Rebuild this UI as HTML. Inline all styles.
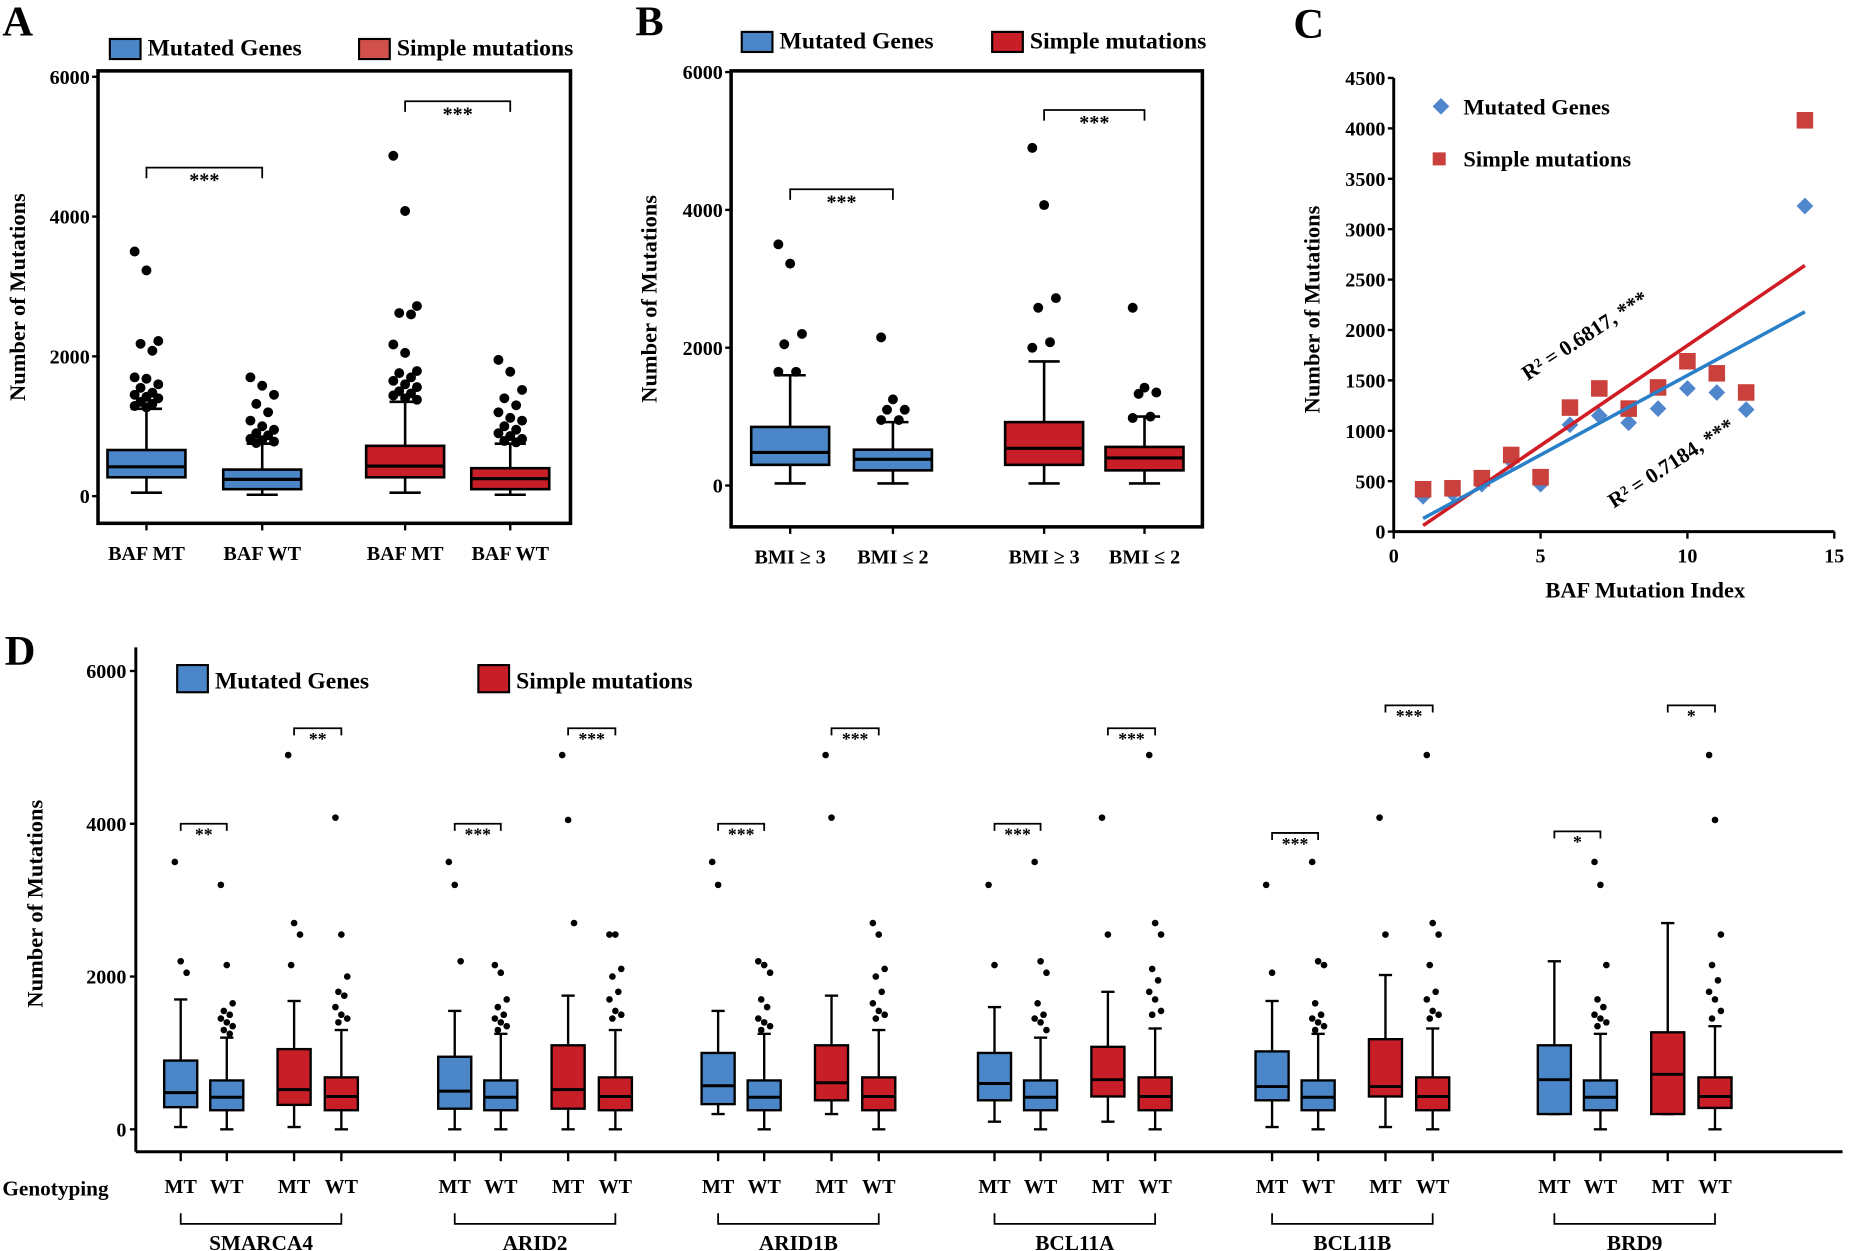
<!DOCTYPE html>
<html><head><meta charset="utf-8">
<style>
html,body{margin:0;padding:0;background:#fff;}
svg{display:block;font-family:"Liberation Serif",serif;font-weight:bold;}
</style></head>
<body>
<svg id="fig" width="1852" height="1251" viewBox="0 0 1568 1059" preserveAspectRatio="none" xmlns="http://www.w3.org/2000/svg">
<rect width="1568" height="1059" fill="#fff"/>
<!-- panel letters -->
<text x="2" y="30" font-size="36">A</text>
<text x="538" y="30" font-size="36">B</text>
<text x="1095" y="32" font-size="36">C</text>
<text x="4" y="563" font-size="36">D</text>
<g id="gA"></g>
<g id="gB"></g>
<g id="gC"></g>
<g id="gD"></g>
</svg>
<script>
// ---------- DATA ----------
// Panel A (stats: low whisker, q1, median, q3, high whisker)
const aCategories = ["BAF MT","BAF WT","BAF MT","BAF WT"];
const aStats = [[50,270,420,660,1250],[20,100,240,380,750],[50,270,430,720,1350],[20,100,250,400,750]];
const aOutliers = [
  [3500,3230,2220,2180,2080,1700,1680,1600,1550,1480,1450,1420,1400,1350,1320,1290,1270],
  [1700,1580,1450,1320,1200,1080,1000,950,900,870,820,800,780,760],
  [4870,4080,2720,2620,2600,2170,2050,1790,1760,1700,1650,1600,1560,1500,1470,1440,1400,1380],
  [1950,1780,1520,1400,1300,1200,1120,1080,1000,950,900,860,820,790,770]
];
const aTicks = [0,2000,4000,6000];
const aSig = ["***","***"];
// Panel B
const bCategories = ["BMI \u2265 3","BMI \u2264 2","BMI \u2265 3","BMI \u2264 2"];
const bStats = [[30,300,480,850,1600],[30,220,380,520,920],[30,300,540,920,1800],[30,220,400,560,1000]];
const bOutliers = [[3500,3220,2200,2050,1650,1650],[2150,1250,1100,1100,950,950],[4900,4070,2720,2580,2080,2000],[2580,1420,1350,1330,1000,980]];
const bTicks = [0,2000,4000,6000];
// Panel C
const cX = [1,2,3,4,5,6,7,8,9,10,11,12,14];
const cGenes = [350,380,470,700,470,1060,1150,1080,1220,1420,1380,1210,3230];
const cSimple = [420,430,530,760,540,1230,1420,1220,1430,1690,1570,1380,4080];
const cFitGenes = [130,2180];   // fitted values at x=1 and x=14
const cFitSimple = [60,2640];
const cYTicks = [0,500,1000,1500,2000,2500,3000,3500,4000,4500];
const cXTicks = [0,5,10,15];
// Panel D
const dGenes = ["SMARCA4","ARID2","ARID1B","BCL11A","BCL11B","BRD9"];
const dBlueMT = [[30,290,480,900,1700],[0,270,500,950,1550],[200,330,570,1000,1550],[100,380,600,1000,1600],[30,380,560,1020,1680],[200,200,650,1100,2200]];
const dBlueWT = [[0,250,420,640,1200],[0,250,420,640,1250],[0,250,420,640,1250],[0,250,420,640,1200],[0,250,420,640,1250],[0,250,420,640,1250]];
const dRedMT = [[30,320,520,1050,1680],[0,270,520,1100,1750],[200,380,610,1100,1750],[100,430,650,1080,1800],[30,430,560,1180,2020],[200,200,720,1270,2700]];
const dRedWT = [[0,250,430,680,1300],[0,250,430,680,1300],[0,250,430,680,1300],[0,250,430,680,1320],[0,250,430,680,1320],[0,280,430,680,1350]];
const dOutBlueMT = [[3500,2200,2050],[3500,3200,2200],[3500,3200],[3200,2150],[3200,2050],[]];
const dOutBlueWT = [[3200,2150,1650,1550,1500,1450,1400,1350,1300,1250],[2150,2050,1700,1600,1500,1450,1400,1350,1300],[2200,2150,2050,1700,1600,1450,1400,1350,1300],[3500,2200,2050,1650,1500,1450,1400,1300],[3500,2200,2150,1650,1500,1450,1400,1350,1300],[3500,3200,2150,1700,1600,1500,1450,1400,1350]];
const dOutRedMT = [[4900,2700,2550,2150],[4900,4050,2700],[4900,4080],[4080,2550],[4080,2550],[]];
const dOutRedWT = [[4080,2550,2000,1800,1750,1600,1500,1450,1400],[2550,2550,2100,2000,1800,1700,1550,1500,1450],[2700,2550,2100,2000,1800,1650,1550,1500,1450],[4900,2700,2550,2100,1950,1800,1700,1550,1500],[4900,2700,2550,2150,1800,1700,1550,1500,1450],[4900,4050,2550,2150,1950,1800,1700,1550,1450]];
const dSigBlue = ["**","***","***","***","***","*"];
const dSigBlueLevel = [4000,4000,4000,4000,3880,3900];
const dSigRed = ["**","***","***","***","***","*"];
const dSigRedLevel = [5250,5250,5250,5250,5550,5550];
const dTicks = [0,2000,4000,6000];

// ---------- HELPERS ----------
const NS="http://www.w3.org/2000/svg";
function mk(parent,tag,attrs,text){const e=document.createElementNS(NS,tag);for(const k in attrs)e.setAttribute(k,attrs[k]);if(text!==undefined)e.textContent=text;parent.appendChild(e);return e;}
const BLUE="#4a86c8", RED="#c81e28", REDL="#d2504c";

function drawBox(g,cx,w,s,fill,ys,name,lw){
  const bx=mk(g,"g",{});
  
  
  const cap=w*0.4;
  mk(bx,"line",{x1:cx,x2:cx,y1:ys(s[0]),y2:ys(s[1]),stroke:"#000","stroke-width":lw});
  mk(bx,"line",{x1:cx,x2:cx,y1:ys(s[3]),y2:ys(s[4]),stroke:"#000","stroke-width":lw});
  mk(bx,"line",{x1:cx-cap/2,x2:cx+cap/2,y1:ys(s[0]),y2:ys(s[0]),stroke:"#000","stroke-width":lw});
  mk(bx,"line",{x1:cx-cap/2,x2:cx+cap/2,y1:ys(s[4]),y2:ys(s[4]),stroke:"#000","stroke-width":lw});
  mk(bx,"rect",{x:cx-w/2,y:ys(s[3]),width:w,height:ys(s[1])-ys(s[3]),fill:fill,stroke:"#000","stroke-width":lw});
  mk(bx,"line",{x1:cx-w/2,x2:cx+w/2,y1:ys(s[2]),y2:ys(s[2]),stroke:"#000","stroke-width":lw+0.5});
}
function drawOut(g,cx,vals,ys,r,spread,name){
  vals.forEach((v,i)=>{
    const off=((i*7)%5-2)*spread;
    const c=mk(g,"circle",{cx:cx+off,cy:ys(v),r:r,fill:"#000"});
    
    
  });
}
function bracket(g,x1,x2,y,label,fs,name,h){
  const b=mk(g,"g",{});
  
  
  mk(b,"path",{d:`M${x1},${y+h}V${y}H${x2}V${y+h}`,fill:"none",stroke:"#000","stroke-width":1.5});
  mk(b,"text",{x:(x1+x2)/2,y:y+fs*0.95,"font-size":fs,"text-anchor":"middle"},label);
}
function legendBox(g,x,y,fill,label,name,w,h,fs){
  const l=mk(g,"g",{});
  
  
  mk(l,"rect",{x:x,y:y,width:w,height:h,fill:fill,stroke:"#000","stroke-width":1.8});
  mk(l,"text",{x:x+w+6,y:y+h-3,"font-size":fs},label);
}

// ---------- PANELS A & B ----------
function boxPanel(g,frame,y0,y6,xs,cats,stats,outs,ticks,legY,legX1,legX2,red,sigY,sigLbl,ylabX,boxW){
  const ys=v=>y0-(y0-y6)*v/6000;
  mk(g,"rect",{x:frame[0],y:frame[1],width:frame[2]-frame[0],height:frame[3]-frame[1],fill:"none",stroke:"#000","stroke-width":3});
  ticks.forEach(t=>{
    mk(g,"line",{x1:frame[0]-5,x2:frame[0],y1:ys(t),y2:ys(t),stroke:"#000","stroke-width":2});
    const tx=mk(g,"text",{x:frame[0]-7,y:ys(t)+6,"font-size":17,"text-anchor":"end"},t);
    
  });
  xs.forEach((x,i)=>{
    mk(g,"line",{x1:x,x2:x,y1:frame[3],y2:frame[3]+6,stroke:"#000","stroke-width":2});
    const tx=mk(g,"text",{x:x,y:frame[3]+31,"font-size":17,"text-anchor":"middle"},cats[i]);
    
  });
  stats.forEach((s,i)=>{
    drawBox(g,xs[i],boxW,s,i<2?BLUE:RED,ys,"box-"+(i<2?"genes":"simple")+"-"+i,2.2);
    drawOut(g,xs[i],outs[i],ys,4.2,5,"outlier-point");
  });
  bracket(g,xs[0],xs[1],ys(sigY[0]),sigLbl[0],17,"significance-bracket-genes",9);
  bracket(g,xs[2],xs[3],ys(sigY[1]),sigLbl[1],17,"significance-bracket-simple",9);
  legendBox(g,legX1,legY,BLUE,"Mutated  Genes","legend-mutated-genes",26,17,20);
  legendBox(g,legX2,legY,red,"Simple mutations","legend-simple-mutations",26,17,20);
  const yl=mk(g,"text",{transform:`translate(${ylabX},${(frame[1]+frame[3])/2}) rotate(-90)`,"font-size":19,"text-anchor":"middle"},"Number  of Mutations");
  
}
boxPanel(document.getElementById("gA"),[83,60,483,443],420,65,[124,222,343,432],aCategories,aStats,aOutliers,aTicks,33,93,304,REDL,[4700,5650],aSig,21,66);
boxPanel(document.getElementById("gB"),[619,60,1018,446],411,61,[669,756,884,969],bCategories,bStats,bOutliers,bTicks,27,628,840,RED,[4300,5450],["***","***"],556,66);

// ---------- PANEL C ----------
(function(){
  const g=document.getElementById("gC");
  const x0=1180,x15=1553,y0=450,y45=66;
  const xs=v=>x0+(x15-x0)*v/15, ys=v=>y0-(y0-y45)*v/4500;
  mk(g,"line",{x1:x0,x2:x0,y1:y45,y2:y0,stroke:"#000","stroke-width":2.5});
  mk(g,"line",{x1:x0,x2:x15,y1:y0,y2:y0,stroke:"#000","stroke-width":2.5});
  cYTicks.forEach(t=>{
    mk(g,"line",{x1:x0-5,x2:x0,y1:ys(t),y2:ys(t),stroke:"#000","stroke-width":2});
    const tx=mk(g,"text",{x:x0-7,y:ys(t)+6,"font-size":17,"text-anchor":"end"},t);
    
  });
  cXTicks.forEach(t=>{
    mk(g,"line",{x1:xs(t),x2:xs(t),y1:y0,y2:y0+6,stroke:"#000","stroke-width":2});
    const tx=mk(g,"text",{x:xs(t),y:y0+26,"font-size":17,"text-anchor":"middle"},t);
    
  });
  cX.forEach((x,i)=>{
    const d=mk(g,"rect",{x:xs(x)-5,y:ys(cGenes[i])-5,width:10,height:10,fill:"#4f86cc",transform:`rotate(45 ${xs(x)} ${ys(cGenes[i])})`});
    
    
  });
  cX.forEach((x,i)=>{
    const s=mk(g,"rect",{x:xs(x)-7,y:ys(cSimple[i])-7,width:14,height:14,fill:"#c9403c"});
    
    
  });
  const xa=cX[0], xb=cX[cX.length-1];
  const lr=mk(g,"line",{x1:xs(xa),y1:ys(cFitSimple[0]),x2:xs(xb),y2:ys(cFitSimple[1]),stroke:"#d01c24","stroke-width":3});
  
  const lb=mk(g,"line",{x1:xs(xa),y1:ys(cFitGenes[0]),x2:xs(xb),y2:ys(cFitGenes[1]),stroke:"#2a80c8","stroke-width":3});
  
  const t1=mk(g,"text",{transform:"translate(1345,289) rotate(-33)","font-size":18,"text-anchor":"middle"},"R\u00b2 = 0.6817, ***");
  
  const t2=mk(g,"text",{transform:"translate(1418,397) rotate(-33)","font-size":18,"text-anchor":"middle"},"R\u00b2 = 0.7184, ***");
  
  const l1=mk(g,"g",{});  
  mk(l1,"rect",{x:1215,y:85,width:10,height:10,fill:"#4f86cc",transform:"rotate(45 1220 90)"});
  mk(l1,"text",{x:1239,y:97,"font-size":19},"Mutated  Genes");
  const l2=mk(g,"g",{});  
  mk(l2,"rect",{x:1213,y:129,width:11,height:11,fill:"#c9403c"});
  mk(l2,"text",{x:1239,y:141,"font-size":19},"Simple mutations");
  const xt=mk(g,"text",{x:1393,y:506,"font-size":19,"text-anchor":"middle"},"BAF  Mutation  Index");
  
  const yt=mk(g,"text",{transform:"translate(1117,262) rotate(-90)","font-size":19,"text-anchor":"middle"},"Number  of Mutations");
  
})();

// ---------- PANEL D ----------
(function(){
  const g=document.getElementById("gD");
  const y0=956,y6=568, ax=115, axY=975;
  const ys=v=>y0-(y0-y6)*v/6000;
  const groupX=[153,385,608,842,1077,1316];
  const step=[0,39,96,136];
  mk(g,"line",{x1:ax,x2:ax,y1:548,y2:axY,stroke:"#000","stroke-width":2.5});
  mk(g,"line",{x1:ax,x2:1560,y1:axY,y2:axY,stroke:"#000","stroke-width":2.5});
  dTicks.forEach(t=>{
    mk(g,"line",{x1:ax-5,x2:ax,y1:ys(t),y2:ys(t),stroke:"#000","stroke-width":2});
    const tx=mk(g,"text",{x:ax-8,y:ys(t)+6,"font-size":17,"text-anchor":"end"},t);
    
  });
  const yt=mk(g,"text",{transform:"translate(36,765) rotate(-90)","font-size":19,"text-anchor":"middle"},"Number  of Mutations");
  
  const gt=mk(g,"text",{x:2,y:1012,"font-size":18},"Genotyping");
  
  const sets=[[dBlueMT,dOutBlueMT,BLUE,"MT"],[dBlueWT,dOutBlueWT,BLUE,"WT"],[dRedMT,dOutRedMT,RED,"MT"],[dRedWT,dOutRedWT,RED,"WT"]];
  dGenes.forEach((gene,gi)=>{
    const gx=groupX[gi];
    sets.forEach((st,si)=>{
      const cx=gx+step[si];
      drawBox(g,cx,28,st[0][gi],st[2],ys,"box-"+gene.toLowerCase()+"-"+(si<2?"genes":"simple")+"-"+st[3].toLowerCase(),2);
      drawOut(g,cx,st[1][gi],ys,2.8,2.5,"outlier-point");
      mk(g,"line",{x1:cx,x2:cx,y1:axY,y2:axY+8,stroke:"#000","stroke-width":2});
      const tl=mk(g,"text",{x:cx,y:1010,"font-size":17,"text-anchor":"middle"},st[3]);
      
    });
    bracket(g,gx,gx+step[1],ys(dSigBlueLevel[gi]),dSigBlue[gi],15,"significance-bracket-genes",6);
    bracket(g,gx+step[2],gx+step[3],ys(dSigRedLevel[gi]),dSigRed[gi],15,"significance-bracket-simple",6);
    const gb=mk(g,"path",{d:`M${gx},1027V1036H${gx+step[3]}V1027`,fill:"none",stroke:"#000","stroke-width":1.5});
    
    const gl=mk(g,"text",{x:gx+step[3]/2,y:1058,"font-size":18,"text-anchor":"middle"},gene);
    
  });
  legendBox(g,150,563,BLUE,"Mutated  Genes","legend-mutated-genes",26,23,20);
  legendBox(g,405,563,RED,"Simple mutations","legend-simple-mutations",26,23,20);
})();
</script>
</body></html>
